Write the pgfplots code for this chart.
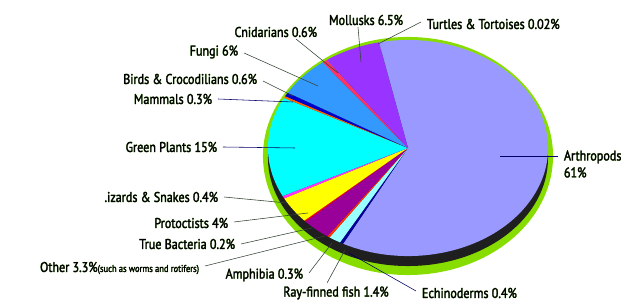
\documentclass[border=0pt]{standalone}
\usepackage{pgfplots}
\usepackage{pgfplotstable}
\usepackage{fontspec}
\pgfplotsset{compat=1.18}
\setmainfont{PT Sans}[FakeStretch=0.86]
\definecolor{cArth}{HTML}{9999FF}
\definecolor{cEchi}{HTML}{000099}
\definecolor{cRay}{HTML}{99FFFF}
\definecolor{cAmph}{HTML}{FF3300}
\definecolor{cOther}{HTML}{990099}
\definecolor{cBact}{HTML}{FF0000}
\definecolor{cProt}{HTML}{FFFF00}
\definecolor{cLiz}{HTML}{FF33FF}
\definecolor{cPlant}{HTML}{00FFFF}
\definecolor{cMamm}{HTML}{FF6600}
\definecolor{cBird}{HTML}{0000CC}
\definecolor{cFungi}{HTML}{3399FF}
\definecolor{cCnid}{HTML}{FF3366}
\definecolor{cMoll}{HTML}{9933FF}
\definecolor{cTurt}{HTML}{6666CC}
\definecolor{rim}{HTML}{88DD00}
\definecolor{txt}{HTML}{14204A}
\definecolor{glow}{HTML}{A8D888}
\definecolor{lead}{HTML}{334433}
\definecolor{leadn}{HTML}{000066}
\newcommand{\glow}[1]{\makebox[0pt][l]{\color{glow}\addfontfeature{FakeBold=4}#1}{\addfontfeature{FakeBold=1.2}#1}}
\pgfplotstableread{
value color
61 cArth
0.4 cEchi
1.4 cRay
0.3 cAmph
3.3 cOther
0.2 cBact
4 cProt
0.4 cLiz
15 cPlant
0.3 cMamm
0.6 cBird
6 cFungi
0.6 cCnid
6.5 cMoll
0.02 cTurt
}\piedata
\begin{document}
\begin{tikzpicture}
\begin{axis}[name=ax, x=0.025cm, y=0.025cm, xmin=0, xmax=621, ymin=-301, ymax=0,
  hide axis, clip=false, scale only axis,
  every node/.style={font=\fontsize{9.2}{10}\selectfont, text=txt, inner sep=0.5pt}]
% rim and side
\fill[rim] (axis cs:408,-156) ellipse[x radius=3.625cm, y radius=2.975cm];
\fill[black!88] (axis cs:408,-158) ellipse[x radius=3.5cm, y radius=2.7cm];
% slices
\def\ps{102}
\pgfplotsforeachungrouped \i in {0,...,14}{
  \pgfplotstablegetelem{\i}{value}\of\piedata \let\pv=\pgfplotsretval
  \pgfplotstablegetelem{\i}{color}\of\piedata \let\pc=\pgfplotsretval
  \pgfmathsetmacro\pe{\ps-3.6*\pv}
  \edef\temp{\noexpand\fill[\pc] (axis cs:408,-148) -- (axis cs:{408+140*cos(\ps)},{-148+108*sin(\ps)}) arc[start angle=\ps, end angle=\pe, x radius=3.5cm, y radius=2.7cm] -- cycle;}
  \temp
  \let\ps=\pe
}
% leader lines
\addplot[lead, thin, no marks] coordinates {(296,-39) (338,-73)};
\addplot[lead, thin, no marks] coordinates {(358,-27) (361,-62)};
\addplot[lead, thin, no marks] coordinates {(421,-22) (378,-44)};
\addplot[lead, thin, no marks] coordinates {(244,-53) (318,-86)};
\addplot[lead, thin, no marks] coordinates {(263,-81) (293,-96)};
\addplot[leadn, thin, no marks] coordinates {(218,-99) (293,-102)};
\addplot[leadn, thin, no marks] coordinates {(223,-147) (295,-148)};
\addplot[lead, thin, no marks] coordinates {(224,-197) (287,-203)};
\addplot[lead, thin, no marks] coordinates {(234,-222) (308,-213)};
\addplot[lead, thin, no marks] coordinates {(241,-244) (312,-228)};
\addplot[lead, thin, no marks] coordinates {(205,-266) (325,-236)};
\addplot[lead, thin, no marks] coordinates {(309,-273) (332,-243)};
\addplot[lead, thin, no marks] coordinates {(327,-283) (345,-250)};
\addplot[leadn, thin, no marks] coordinates {(416,-291) (349,-253)};
\addplot[leadn, thin, no marks] coordinates {(500,-156) (558,-156)};
% labels
\node[anchor=east] at (axis cs:322,-32) {\glow{Cnidarians 0.6\%}};
\node at (axis cs:366,-20) {\glow{Mollusks 6.5\%}};
\node[anchor=west] at (axis cs:422,-24) {\glow{Turtles \& Tortoises 0.02\%}};
\node[anchor=east] at (axis cs:243,-52) {\glow{Fungi 6\%}};
\node[anchor=east] at (axis cs:262,-79) {\glow{Birds \& Crocodilians 0.6\%}};
\node[anchor=east] at (axis cs:217,-99) {\glow{Mammals 0.3\%}};
\node[anchor=east] at (axis cs:222,-147) {\glow{Green Plants 15\%}};
\node[anchor=east] at (axis cs:223,-197) {\glow{.izards \& Snakes 0.4\%}};
\node[anchor=east] at (axis cs:233,-223) {\glow{Protoctists 4\%}};
\node[anchor=east] at (axis cs:240,-244) {\glow{True Bacteria 0.2\%}};
\node[anchor=east] at (axis cs:204,-268) {\glow{Other 3.3\%}{\fontsize{7}{8}\selectfont\glow{(such as worms and rotifers)}}};
\node[anchor=east] at (axis cs:308,-275) {\glow{Amphibia 0.3\%}};
\node at (axis cs:336,-293) {\glow{Ray-finned fish 1.4\%}};
\node[anchor=west] at (axis cs:417,-293) {\glow{Echinoderms 0.4\%}};
\node[anchor=west, align=left] at (axis cs:559,-164) {\glow{Arthropods}\\\glow{61\%}};
\end{axis}
\pgfresetboundingbox
\path (ax.south west) rectangle (ax.north east);
\end{tikzpicture}
\end{document}
